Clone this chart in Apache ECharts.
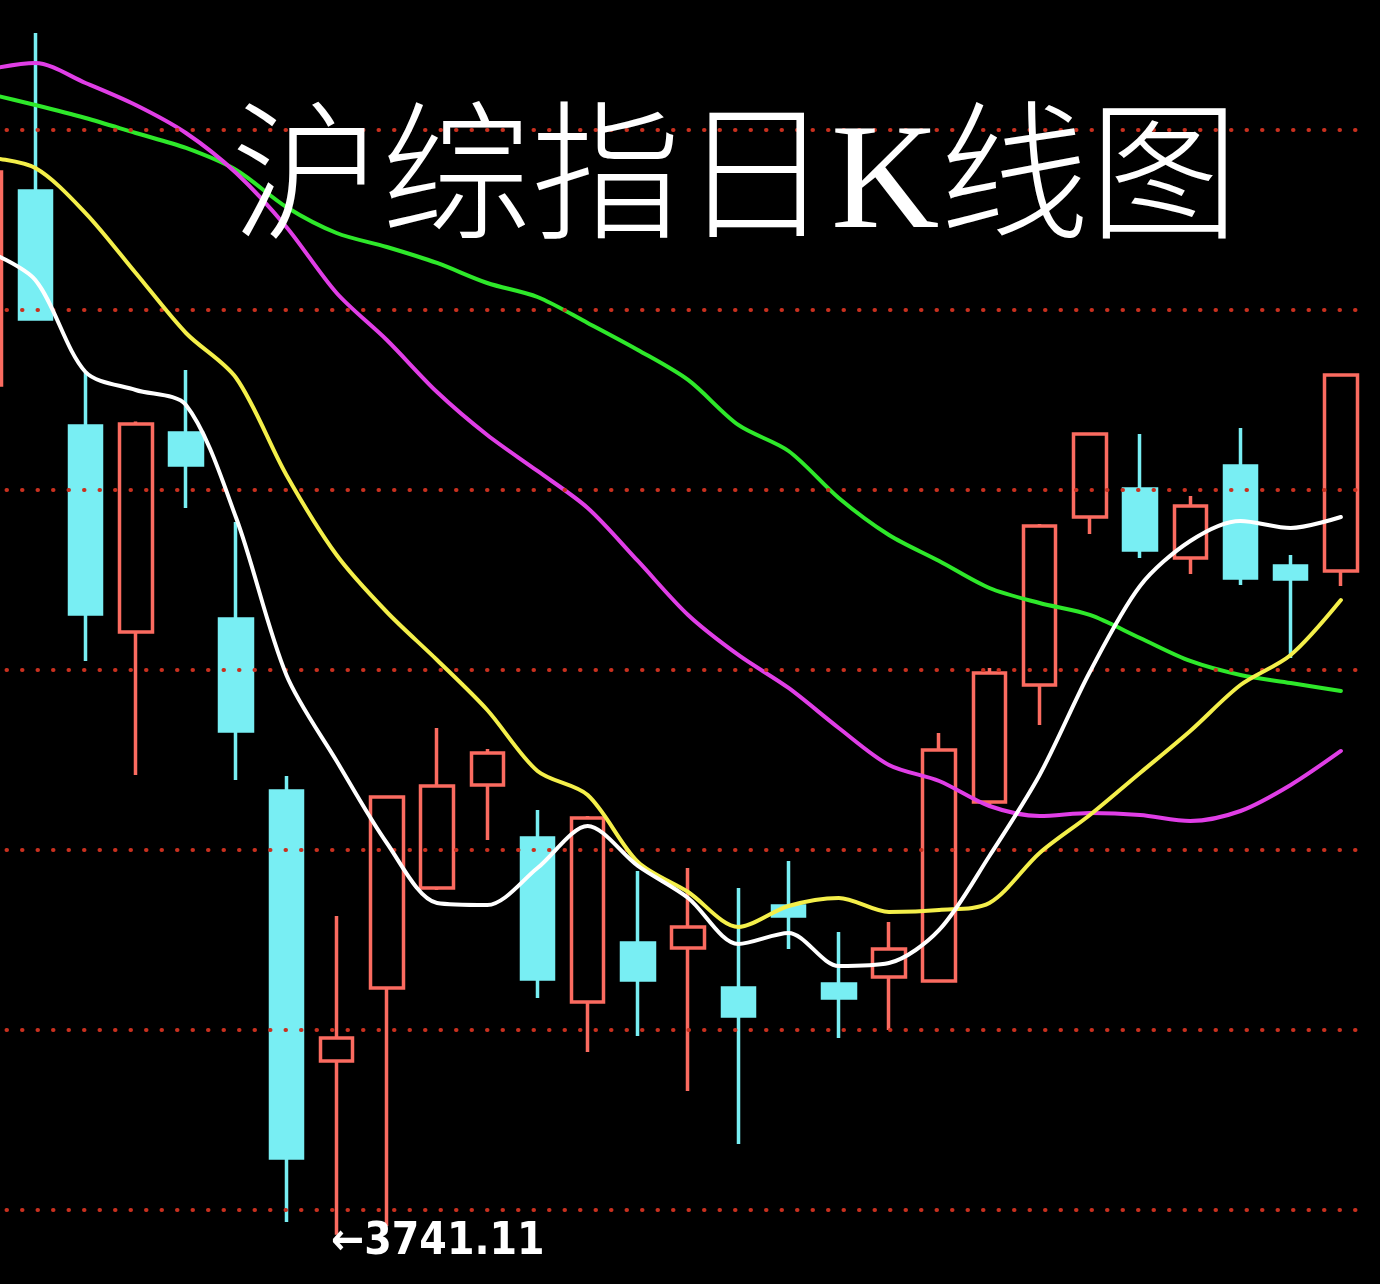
<!DOCTYPE html>
<html>
<head>
<meta charset="utf-8">
<script src="https://cdn.jsdelivr.net/npm/echarts@6/dist/echarts.min.js"></script>
<style>
  html, body { margin: 0; padding: 0; background: #000; }
  #chart { width: 1380px; height: 1284px; }
</style>
</head>
<body>
<div id="chart"></div>
<script>
const titleText = '沪综指日K线图';
const categories = ['1','2','3','4','5','6','7','8','9','10','11','12','13','14',
  '15','16','17','18','19','20','21','22','23','24','25','26','27','28'];

const openPrices  = [3977.17, 4031.06, 3965.78, 3908.56, 3963.83, 3912.17, 3864.39, 3789.39, 3809.67, 3837.44,
  3866.06, 3851.33, 3805.78, 3822.17, 3820.78, 3809.67, 3832.44, 3810.78, 3812.72, 3811.61,
  3861.33, 3893.83, 3940.50, 3948.28, 3929.11, 3954.67, 3926.89, 3925.50];
const closePrices = [4036.33, 3995.50, 3913.56, 3966.33, 3954.94, 3881.06, 3762.44, 3795.78, 3862.72, 3865.78,
  3874.94, 3812.17, 3856.89, 3811.89, 3826.61, 3801.89, 3829.67, 3806.89, 3820.50, 3875.78,
  3897.17, 3938.00, 3963.56, 3931.33, 3943.56, 3923.56, 3923.28, 3979.94];
const lowPrices   = [3975.78, 3995.22, 3900.50, 3868.83, 3943.00, 3867.44, 3744.67, 3741.11, 3743.56, 3836.89,
  3850.78, 3806.89, 3791.89, 3796.33, 3781.06, 3766.33, 3820.50, 3795.78, 3798.00, 3811.61,
  3860.50, 3882.72, 3935.78, 3929.11, 3924.67, 3921.61, 3901.33, 3921.33];
const highPrices  = [4038.28, 4074.94, 3980.50, 3967.00, 3981.33, 3939.11, 3868.56, 3829.67, 3862.72, 3881.89,
  3876.06, 3859.11, 3857.44, 3842.17, 3843.00, 3837.44, 3844.94, 3825.22, 3828.00, 3880.50,
  3898.56, 3938.56, 3963.83, 3963.56, 3946.33, 3965.22, 3929.94, 3979.94];

const ma5  = [4014.67, 4006.33, 3980.78, 3975.78, 3971.61, 3940.22, 3896.61, 3872.72, 3849.94, 3833.28,
  3832.72, 3843.00, 3854.67, 3843.56, 3834.67, 3821.89, 3824.94, 3815.78, 3816.61, 3825.78,
  3846.33, 3868.83, 3897.44, 3921.33, 3933.83, 3939.39, 3937.44, 3940.50];
const ma10 = [4040.50, 4037.44, 4024.94, 4008.28, 3991.61, 3979.11, 3952.17, 3929.94, 3914.11, 3900.78,
  3886.89, 3869.94, 3863.28, 3844.67, 3836.33, 3826.61, 3832.44, 3834.67, 3830.78, 3831.33,
  3833.28, 3847.17, 3857.72, 3869.39, 3881.06, 3893.83, 3902.17, 3917.44];
const ma20 = [4064.67, 4066.61, 4061.06, 4054.94, 4047.17, 4036.06, 4021.06, 4002.72, 3989.67, 3975.22,
  3963.28, 3953.28, 3943.00, 3928.28, 3913.28, 3902.17, 3893.00, 3881.89, 3871.61, 3867.17,
  3860.22, 3857.44, 3858.28, 3857.72, 3856.06, 3858.83, 3866.06, 3875.50];
const ma60 = [4058.28, 4054.94, 4051.33, 4047.17, 4043.00, 4036.89, 4026.61, 4019.39, 4015.50, 4011.06,
  4005.50, 4001.61, 3994.39, 3986.89, 3978.56, 3966.06, 3958.83, 3945.78, 3935.50, 3928.28,
  3920.78, 3916.61, 3913.28, 3906.89, 3900.50, 3896.61, 3894.39, 3892.17];

const gridLevels = [3748, 3798, 3848, 3898, 3948, 3998, 4048];
const lowValue = 3741.11;
const lowIndex = 7;

const candleData = categories.map((c, i) => [openPrices[i], closePrices[i], lowPrices[i], highPrices[i]]);

const UP = '#fb6b60';
const DOWN = '#78eef3';

function maSeries(name, data, color, z) {
  return {
    name, type: 'line', data, smooth: 0.3, symbol: 'none', z,
    lineStyle: { color, width: 4, cap: 'round', join: 'round' },
    silent: true
  };
}

const chart = echarts.init(document.getElementById('chart'), null, { renderer: 'canvas' });
chart.setOption({
  animation: false,
  backgroundColor: '#000',
  title: {
    text: titleText,
    left: 226, top: 108,
    textStyle: {
      color: '#ffffff', fontSize: 150, fontWeight: 300,
      fontFamily: "'Liberation Serif', 'Noto Sans CJK SC', serif"
    }
  },
  grid: { left: -40, right: 14, top: 0, bottom: 0, outerBoundsMode: 'none', containLabel: false },
  xAxis: {
    type: 'category', data: categories, boundaryGap: true,
    axisLine: { show: false }, axisTick: { show: false }, axisLabel: { show: false },
    splitLine: { show: false }
  },
  yAxis: {
    type: 'value', min: 3727.44, max: 4084.11, scale: true,
    axisLine: { show: false }, axisTick: { show: false }, axisLabel: { show: false },
    splitLine: { show: false }
  },
  series: [
    {
      name: 'grid', type: 'line', data: [], z: 1, silent: true,
      markLine: {
        silent: true, symbol: 'none', animation: false,
        label: { show: false },
        lineStyle: { color: '#c9301f', width: 4, type: [0.5, 15], cap: 'round' },
        data: gridLevels.map(v => ({ yAxis: v }))
      }
    },
    {
      name: 'K', type: 'candlestick', data: candleData, barWidth: 33, z: 2,
      itemStyle: {
        color: 'rgba(0,0,0,0)', color0: DOWN,
        borderColor: UP, borderColor0: DOWN, borderWidth: 3.5
      },
      markPoint: {
        symbol: 'circle', symbolSize: 1, silent: true,
        itemStyle: { color: 'rgba(0,0,0,0)' },
        label: {
          show: true, position: 'right', distance: 0, offset: [-6, 8],
          formatter: '←' + lowValue.toFixed(2),
          color: '#ffffff', fontSize: 44, fontWeight: 'bold',
          fontFamily: "'Liberation Sans Narrow', 'DejaVu Sans Condensed', sans-serif"
        },
        data: [{ coord: [categories[lowIndex], lowValue] }]
      }
    },
    maSeries('MA60', ma60, '#2ee82a', 3),
    maSeries('MA20', ma20, '#e03ee6', 4),
    maSeries('MA10', ma10, '#f4ef4a', 5),
    maSeries('MA5', ma5, '#ffffff', 6)
  ]
});
</script>
</body>
</html>
